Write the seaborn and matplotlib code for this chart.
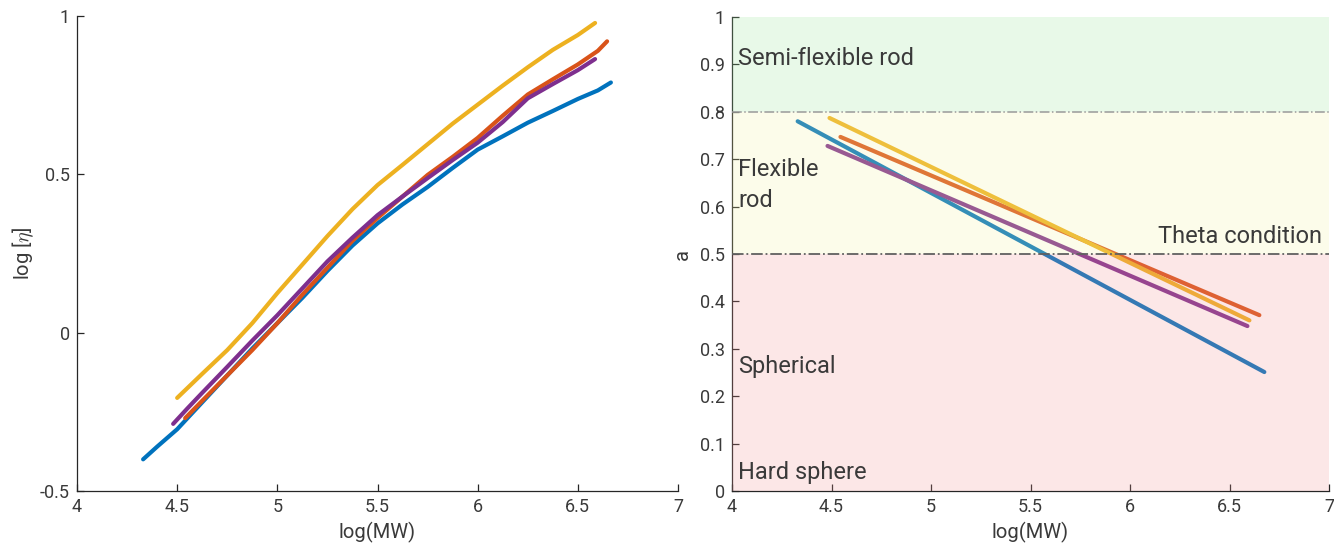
import matplotlib
matplotlib.use("Agg")
import matplotlib.pyplot as plt
import seaborn as sns
import pandas as pd

# ---------------- data ----------------
series_names = ["S1", "S2", "S3", "S4"]
series_colors = ["#0072BD", "#D95319", "#EDB120", "#7E2F8E"]

# left panel: log[eta] vs log(MW)
x_s1 = [4.33, 4.40, 4.50, 4.625, 4.75, 4.875, 5.00, 5.125, 5.25, 5.375, 5.50,
        5.625, 5.75, 5.875, 6.00, 6.125, 6.25, 6.375, 6.50, 6.60, 6.665]
y_s1 = [-0.40, -0.36, -0.305, -0.22, -0.135, -0.05, 0.03, 0.11, 0.195, 0.275, 0.345,
        0.405, 0.46, 0.52, 0.578, 0.62, 0.663, 0.70, 0.738, 0.765, 0.79]

x_s2 = [4.54, 4.625, 4.75, 4.875, 5.00, 5.125, 5.25, 5.375, 5.50, 5.625, 5.75,
        5.875, 6.00, 6.125, 6.25, 6.375, 6.50, 6.60, 6.646]
y_s2 = [-0.27, -0.215, -0.135, -0.055, 0.03, 0.12, 0.205, 0.29, 0.362, 0.43, 0.498,
        0.555, 0.615, 0.685, 0.752, 0.80, 0.847, 0.89, 0.92]

x_s3 = [4.50, 4.625, 4.75, 4.875, 5.00, 5.125, 5.25, 5.375, 5.50, 5.625, 5.75,
        5.875, 6.00, 6.125, 6.25, 6.375, 6.50, 6.586]
y_s3 = [-0.206, -0.13, -0.055, 0.03, 0.125, 0.215, 0.305, 0.39, 0.466, 0.53, 0.595,
        0.66, 0.72, 0.78, 0.838, 0.893, 0.94, 0.978]

x_s4 = [4.48, 4.55, 4.625, 4.75, 4.875, 5.00, 5.125, 5.25, 5.375, 5.50, 5.625,
        5.75, 5.875, 6.00, 6.125, 6.25, 6.375, 6.50, 6.586]
y_s4 = [-0.288, -0.24, -0.19, -0.108, -0.025, 0.055, 0.14, 0.225, 0.30, 0.371, 0.43,
        0.488, 0.545, 0.60, 0.665, 0.74, 0.785, 0.829, 0.864]

# right panel: exponent a vs log(MW)
ax_s1 = [4.33, 6.675]
ay_s1 = [0.78, 0.251]
ax_s2 = [4.545, 6.65]
ay_s2 = [0.747, 0.371]
ax_s3 = [4.49, 6.60]
ay_s3 = [0.787, 0.36]
ax_s4 = [4.48, 6.59]
ay_s4 = [0.728, 0.348]

region_bounds = [0.0, 0.5, 0.8, 1.0]
region_labels = ["Hard sphere", "Spherical", "Flexible\nrod", "Semi-flexible rod"]
theta_label = "Theta condition"

left_xticks = [4, 4.5, 5, 5.5, 6, 6.5, 7]
left_xticklabels = ["4", "4.5", "5", "5.5", "6", "6.5", "7"]
left_yticks = [-0.5, 0, 0.5, 1]
left_yticklabels = ["-0.5", "0", "0.5", "1"]
right_yticks = [0, 0.1, 0.2, 0.3, 0.4, 0.5, 0.6, 0.7, 0.8, 0.9, 1.0]
right_yticklabels = ["0", "0.1", "0.2", "0.3", "0.4", "0.5", "0.6", "0.7", "0.8", "0.9", "1"]

# ---------------- build tables ----------------
def long_df(xs, ys):
    rows = []
    for name, xv, yv in zip(series_names, xs, ys):
        for a, b in zip(xv, yv):
            rows.append({"x": a, "y": b, "series": name})
    return pd.DataFrame(rows)

df_left = long_df([x_s1, x_s2, x_s3, x_s4], [y_s1, y_s2, y_s3, y_s4])
df_right = long_df([ax_s1, ax_s2, ax_s3, ax_s4], [ay_s1, ay_s2, ay_s3, ay_s4])
palette = dict(zip(series_names, series_colors))

# ---------------- style ----------------
sns.set_theme(style="white")
plt.rcParams["font.family"] = ["Roboto", "DejaVu Sans"]
plt.rcParams["mathtext.fontset"] = "cm"
TXT = "#3a3a3a"
AX = "#262626"

fig = plt.figure(figsize=(13.34, 5.49), dpi=100)
axL = fig.add_axes([77 / 1334, 58 / 549, 601 / 1334, 475 / 549])
axR = fig.add_axes([732 / 1334, 58 / 549, 597 / 1334, 474 / 549])

sns.lineplot(data=df_left, x="x", y="y", hue="series", palette=palette,
             estimator=None, sort=False, linewidth=3.0, legend=False, ax=axL)
sns.lineplot(data=df_right, x="x", y="y", hue="series", palette=palette,
             estimator=None, sort=False, linewidth=3.0, legend=False, ax=axR)

# regions on the right panel (drawn translucent over the lines, as in the reference)
fills = [(0.95, 0.58, 0.58), (0.96, 0.96, 0.64), (0.60, 0.90, 0.60)]
for (lo, hi), c in zip([(region_bounds[0], region_bounds[1]),
                        (region_bounds[1], region_bounds[2]),
                        (region_bounds[2], region_bounds[3])], fills):
    axR.axhspan(lo, hi, color=c, alpha=0.22, lw=0, zorder=3)
axR.axhline(0.8, color="#9a9a9a", lw=1.1, ls="-.", zorder=4)
axR.axhline(0.5, color="#606060", lw=1.3, ls="-.", zorder=4)

tfs = 17
axR.text(4.03, 0.913, region_labels[3], fontsize=tfs, color=TXT, va="center", ha="left", zorder=5)
axR.text(4.03, 0.645, region_labels[2], fontsize=tfs, color=TXT, va="center", ha="left",
         linespacing=1.45, zorder=5)
axR.text(6.965, 0.536, theta_label, fontsize=tfs, color=TXT, va="center", ha="right", zorder=5)
axR.text(4.03, 0.262, region_labels[1], fontsize=tfs, color=TXT, va="center", ha="left", zorder=5)
axR.text(4.03, 0.038, region_labels[0], fontsize=tfs, color=TXT, va="center", ha="left", zorder=5)

# ---------------- axes ----------------
for ax in (axL, axR):
    ax.set_xlim(4, 7)
    ax.set_xticks(left_xticks)
    ax.set_xticklabels(left_xticklabels)
    for s in ("top", "right"):
        ax.spines[s].set_visible(False)
    for s in ("left", "bottom"):
        ax.spines[s].set_color(AX)
        ax.spines[s].set_linewidth(0.9)
    ax.tick_params(direction="in", length=5, width=0.9, color=AX, labelcolor=TXT,
                   labelsize=13, pad=5, left=True, bottom=True)
    ax.set_xlabel("log(MW)", fontsize=14.5, color=TXT, labelpad=4)

axL.set_ylim(-0.5, 1)
axL.set_yticks(left_yticks)
axL.set_yticklabels(left_yticklabels)
axL.set_ylabel(r"log [$\eta$]", fontsize=14.5, color=TXT, labelpad=3)

axR.set_ylim(0, 1)
axR.set_yticks(right_yticks)
axR.set_yticklabels(right_yticklabels)
axR.set_ylabel("a", fontsize=14.5, color=TXT, labelpad=6)

fig.savefig("out.png", dpi=100)
